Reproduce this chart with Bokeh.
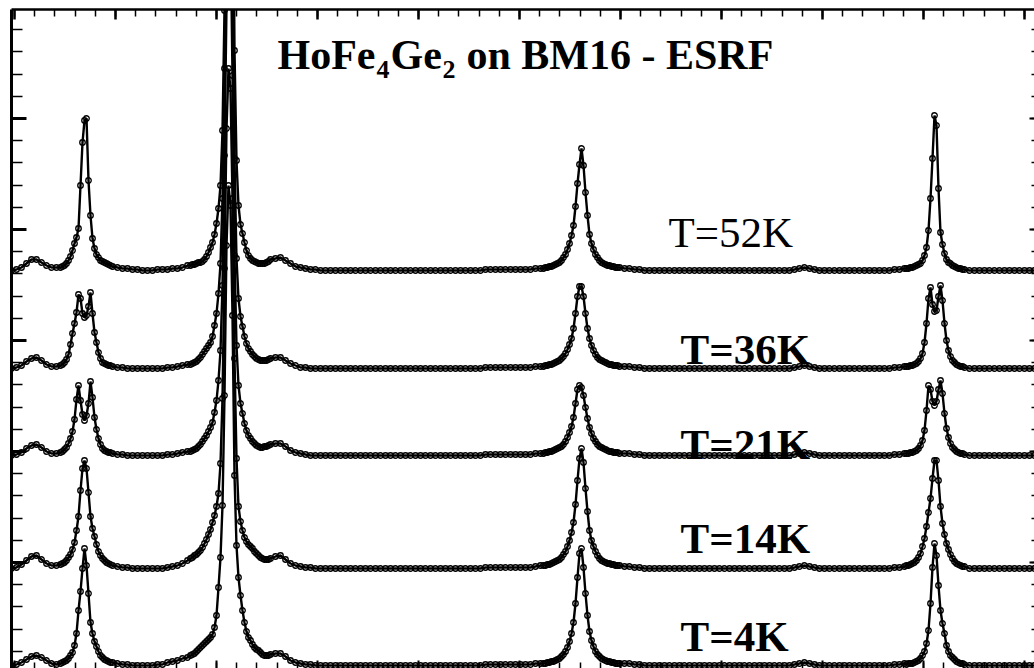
import numpy as np
from bokeh.plotting import figure
from bokeh.models import Range1d, LinearAxis, FixedTicker, Label
from bokeh.embed import file_html
from bokeh.resources import INLINE

# detector channels: coarse steps on the background, finer steps across the Bragg peaks
channel = np.concatenate([
    np.arange(11, 57, 5), np.arange(60, 113, 2), np.arange(117, 188, 5),
    np.arange(190, 271, 2), np.arange(275, 541, 5), np.arange(543, 620, 2),
    np.arange(624, 905, 5), np.arange(906, 965, 2), np.arange(969, 1035, 5),
])

temperatures = ["T=52K", "T=36K", "T=21K", "T=14K", "T=4K"]
offsets = [398, 300, 213, 100, 3]

counts_52K = [
    0, 1, 3, 7, 11, 11, 8, 5, 3, 3,
    3, 4, 5, 7, 10, 14, 20, 27, 33, 42, 85, 128, 150, 152, 90, 55, 32, 22, 16, 13, 10, 9, 8, 7, 6, 5, 4,
    3, 2, 2, 1, 1, 0, 0, 0, 1, 1, 1, 2, 2, 3, 5,
    5, 6, 6, 7, 8, 8, 9, 11, 14, 18, 23, 28, 36, 47, 62, 85, 140, 260, 500, 700,
    680, 480, 220, 110, 65, 46, 37, 28, 20, 15, 12, 10, 9, 8, 7, 7, 7, 7, 8, 9, 11,
    12, 13, 10, 7, 4, 3, 2, 1, 1,
    0, 0, 0, 0, 0, 0, 0, 0, 0, 0, 0, 0, 0, 0, 0, 0, 0, 0, 0, 0, 0, 0, 0, 0, 0, 0, 0, 0, 0, 0, 0, 0, 0,
    1, 1, 1, 1, 1, 1, 1, 1, 1, 1, 2, 2,
    2, 3, 3, 4, 4, 5, 6, 7, 8, 10, 13, 16, 21, 27, 35, 45, 64, 87, 106, 122,
    105, 78, 55, 36, 27, 21, 16, 13, 10, 8, 7, 6, 5, 5, 4, 4, 3, 3, 3,
    2, 2, 1, 1,
    0, 0, 0, 0, 0, 0, 0, 0, 0, 0, 0, 0, 0, 0, 0, 0, 0, 0, 0, 0, 0, 0, 0, 0, 0, 0, 0, 0, 0, 0,
    1, 2, 3, 2, 1,
    0, 0, 0, 0, 0, 0, 0, 0, 0, 0, 0, 0, 0, 0, 0,
    1, 1, 2,
    2, 2, 3, 3, 4, 5, 6, 7, 10, 15, 23, 40, 72, 112, 155, 145, 82, 38, 26, 17, 11, 8, 7, 5, 4, 3, 2, 2, 1, 1,
    0, 0, 0, 0, 0, 0, 0, 0, 0, 0, 0, 0, 0, 0,
]

counts_36K = [
    0, 1, 3, 7, 10, 11, 8, 4, 2, 2,
    3, 4, 6, 9, 14, 24, 35, 45, 56, 74, 70, 55, 51, 53, 62, 76, 55, 36, 26, 16, 10, 6, 5, 4, 3, 3, 2,
    1, 1, 0, 0, 0, 0, 0, 0, 0, 0, 1, 1, 2, 3, 4,
    4, 5, 6, 7, 9, 11, 14, 17, 20, 23, 26, 32, 43, 55, 75, 105, 170, 300, 480, 600,
    580, 400, 210, 110, 70, 52, 42, 32, 25, 20, 17, 14, 12, 10, 9, 8, 8, 8, 8, 9, 10,
    11, 11, 8, 5, 3, 1, 1, 0, 0,
    0, 0, 0, 0, 0, 0, 0, 0, 0, 0, 0, 0, 0, 0, 0, 0, 0, 0, 0, 0, 0, 0, 0, 0, 0, 0, 0, 0, 0, 0, 0, 0, 0,
    1, 1, 1, 1, 1, 1, 1, 1, 1, 1, 2, 2,
    2, 3, 3, 4, 4, 5, 6, 7, 8, 10, 12, 15, 19, 24, 30, 40, 55, 72, 82, 82,
    72, 55, 40, 30, 23, 18, 14, 11, 9, 8, 7, 6, 5, 4, 4, 3, 3, 3, 2,
    2, 2, 1, 1,
    0, 0, 0, 0, 0, 0, 0, 0, 0, 0, 0, 0, 0, 0, 0, 0, 0, 0, 0, 0, 0, 0, 0, 0, 0, 0, 0, 0, 0, 0,
    1, 2, 3, 2, 1,
    0, 0, 0, 0, 0, 0, 0, 0, 0, 0, 0, 0, 0, 0, 0,
    1, 1, 2,
    2, 2, 3, 3, 4, 5, 7, 10, 15, 26, 45, 70, 81, 64, 57, 58, 72, 83, 68, 45, 28, 18, 12, 8, 6, 4, 3, 2, 2, 1,
    0, 0, 0, 0, 0, 0, 0, 0, 0, 0, 0, 0, 0, 0,
]

counts_21K = [
    0, 1, 3, 7, 10, 11, 8, 4, 2, 2,
    3, 4, 6, 8, 12, 17, 24, 36, 56, 70, 55, 41, 35, 40, 52, 74, 58, 38, 26, 17, 11, 7, 5, 4, 3, 3, 2,
    1, 1, 0, 0, 0, 0, 0, 0, 0, 0, 1, 1, 2, 3, 4,
    4, 5, 6, 7, 9, 11, 14, 17, 20, 24, 28, 33, 43, 55, 75, 105, 170, 300, 450, 550,
    530, 380, 200, 110, 70, 52, 42, 32, 25, 20, 17, 14, 12, 10, 9, 8, 8, 9, 9, 10, 11,
    12, 12, 9, 5, 3, 2, 1, 0, 0,
    0, 0, 0, 0, 0, 0, 0, 0, 0, 0, 0, 0, 0, 0, 0, 0, 0, 0, 0, 0, 0, 0, 0, 0, 0, 0, 0, 0, 0, 0, 0, 0, 0,
    1, 1, 1, 1, 1, 1, 1, 1, 1, 1, 2, 2,
    2, 3, 3, 4, 4, 5, 6, 7, 8, 9, 11, 14, 18, 23, 29, 38, 52, 66, 70, 68,
    60, 48, 37, 28, 22, 17, 14, 11, 9, 8, 7, 6, 5, 4, 4, 3, 3, 3, 2,
    2, 2, 1, 1,
    0, 0, 0, 0, 0, 0, 0, 0, 0, 0, 0, 0, 0, 0, 0, 0, 0, 0, 0, 0, 0, 0, 0, 0, 0, 0, 0, 0, 0, 0,
    1, 2, 3, 2, 1,
    0, 0, 0, 0, 0, 0, 0, 0, 0, 0, 0, 0, 0, 0, 0,
    1, 1, 2,
    2, 2, 3, 3, 4, 5, 7, 10, 15, 25, 45, 70, 66, 54, 50, 54, 66, 75, 62, 42, 27, 18, 12, 8, 6, 4, 3, 2, 2, 1,
    0, 0, 0, 0, 0, 0, 0, 0, 0, 0, 0, 0, 0, 0,
]

counts_14K = [
    0, 1, 4, 8, 12, 13, 9, 5, 3, 3,
    4, 5, 6, 8, 11, 14, 19, 26, 38, 52, 78, 100, 108, 100, 76, 52, 40, 32, 24, 17, 13, 10, 8, 6, 5, 4, 3,
    2, 1, 1, 0, 0, 0, 0, 0, 0, 0, 1, 2, 3, 5, 8,
    10, 11, 13, 14, 16, 18, 21, 25, 29, 34, 39, 46, 53, 62, 75, 105, 170, 300, 440, 500,
    480, 370, 210, 110, 62, 47, 38, 31, 27, 24, 22, 20, 17, 15, 13, 11, 10, 9, 9, 9, 10,
    12, 13, 9, 5, 3, 2, 1, 1, 0,
    0, 0, 0, 0, 0, 0, 0, 0, 0, 0, 0, 0, 0, 0, 0, 0, 0, 0, 0, 0, 0, 0, 0, 0, 0, 0, 0, 0, 0, 0, 0, 0, 0,
    1, 1, 1, 1, 1, 1, 1, 1, 1, 1, 2, 3,
    3, 3, 4, 4, 5, 6, 7, 8, 9, 11, 14, 17, 22, 28, 36, 46, 64, 88, 110, 120,
    106, 80, 57, 38, 28, 22, 17, 13, 10, 8, 7, 6, 5, 5, 4, 4, 3, 3, 3,
    2, 2, 1, 1,
    0, 0, 0, 0, 0, 0, 0, 0, 0, 0, 0, 0, 0, 0, 0, 0, 0, 0, 0, 0, 0, 0, 0, 0, 0, 0, 0, 0, 0, 0,
    1, 2, 3, 2, 1,
    0, 0, 0, 0, 0, 0, 0, 0, 0, 0, 0, 0, 0, 0, 0,
    1, 1, 2,
    3, 3, 4, 5, 6, 8, 11, 15, 22, 30, 42, 56, 70, 90, 108, 108, 88, 62, 45, 34, 25, 19, 14, 10, 7, 5, 4, 3, 2, 2,
    0, 0, 0, 0, 0, 0, 0, 0, 0, 0, 0, 0, 0, 0,
]

counts_4K = [
    0, 1, 3, 6, 9, 10, 8, 5, 2, 1,
    2, 3, 4, 5, 7, 10, 13, 20, 32, 55, 74, 97, 117, 100, 72, 43, 32, 24, 19, 14, 10, 8, 6, 5, 4, 3, 3,
    2, 1, 1, 0, 0, 0, 0, 0, 1, 1, 3, 4, 5, 7, 8,
    10, 11, 12, 14, 16, 18, 20, 22, 24, 26, 28, 31, 38, 50, 78, 108, 160, 270, 420, 480,
    460, 350, 190, 120, 88, 70, 55, 43, 34, 28, 25, 21, 18, 16, 15, 13, 11, 10, 10, 10, 11,
    12, 12, 9, 5, 3, 2, 1, 1, 0,
    0, 0, 0, 0, 0, 0, 0, 0, 0, 0, 0, 0, 0, 0, 0, 0, 0, 0, 0, 0, 0, 0, 0, 0, 0, 0, 0, 0, 0, 0, 0, 0, 0,
    1, 1, 1, 1, 1, 1, 1, 1, 1, 1, 2, 2,
    2, 2, 3, 3, 4, 4, 5, 6, 7, 9, 11, 14, 18, 24, 32, 43, 62, 88, 112, 117,
    98, 72, 50, 34, 25, 19, 14, 11, 9, 7, 6, 5, 4, 4, 3, 3, 2, 2, 2,
    2, 2, 1, 1,
    0, 0, 0, 0, 0, 0, 0, 0, 0, 0, 0, 0, 0, 0, 0, 0, 0, 0, 0, 0, 0, 0, 0, 0, 0, 0, 0, 0, 0, 0,
    1, 2, 3, 2, 1,
    0, 0, 0, 0, 0, 0, 0, 0, 0, 0, 0, 0, 0, 0, 0,
    1, 1, 2,
    1, 2, 2, 2, 3, 4, 5, 7, 10, 14, 22, 35, 62, 98, 122, 110, 80, 55, 42, 32, 20, 14, 10, 8, 6, 4, 3, 2, 2, 1,
    0, 0, 0, 0, 0, 0, 0, 0, 0, 0, 0, 0, 0, 0,
]

patterns = [counts_52K, counts_36K, counts_21K, counts_14K, counts_4K]
for pat in patterns:
    assert len(pat) == len(channel), (len(pat), len(channel))

# tick positions of the frame (channel / stacked-count units)
x_major = [14 + 101 * k for k in range(11)]
x_minor = [14 + 20.2 * k for k in range(51)]
y_major = [661 - 111 * k for k in range(7)]
y_minor = [661 - 22.2 * k for k in range(31)]

p = figure(width=1034, height=668, output_backend="svg", toolbar_location=None,
           x_range=Range1d(11, 1034), y_range=Range1d(0, 659),
           min_border_left=11, min_border_top=9, min_border_right=0, min_border_bottom=0,
           title=None, background_fill_color="white", border_fill_color="white")
p.outline_line_color = None
p.xgrid.visible = False
p.ygrid.visible = False

p.add_layout(LinearAxis(), "above")
p.add_layout(LinearAxis(), "right")


def frame_axis(ax, ticker, major_in, minor_in, major_w, minor_w, line_w):
    ax.ticker = ticker
    ax.major_label_text_font_size = "0px"
    ax.major_label_text_color = None
    ax.major_label_standoff = 0
    ax.major_tick_out = 0
    ax.minor_tick_out = 0
    ax.major_tick_in = major_in
    ax.minor_tick_in = minor_in
    ax.major_tick_line_width = major_w
    ax.minor_tick_line_width = minor_w
    ax.major_tick_line_color = "black"
    ax.minor_tick_line_color = "black"
    if line_w:
        ax.axis_line_width = line_w
        ax.axis_line_color = "black"
    else:
        ax.axis_line_color = None


x_ticker = FixedTicker(ticks=x_major, minor_ticks=x_minor)
y_ticker = FixedTicker(ticks=y_major, minor_ticks=y_minor)
frame_axis(p.left[0], y_ticker, 15, 11, 3, 1.5, 3)
frame_axis(p.above[0], x_ticker, 10, 7, 2.5, 1.5, 2.5)
frame_axis(p.right[0], y_ticker, 5, 3, 2, 1.5, None)
frame_axis(p.below[0], x_ticker, 8, 6, 2, 1.5, None)

for pat, off in zip(patterns[::-1], offsets[::-1]):
    y = off + np.asarray(pat, dtype=float)
    p.line(channel, y, line_color="black", line_width=2.4)
    p.scatter(channel, y, size=5.5, marker="circle", fill_color="white", fill_alpha=0.0,
              line_color="black", line_width=1.3)

# the SVG text baseline sits ~0.36 em below the anchor, so anchors are raised by that much
def text_label(txt, x, y_base, size_px, weight):
    p.add_layout(Label(x=x, y=y_base + 0.36 * size_px, text=txt, text_font="Liberation Serif",
                       text_font_size=f"{size_px}px", text_font_style=weight,
                       text_color="black", text_baseline="alphabetic"))


label_pos = [(668, 421, "normal"), (680, 304, "bold"), (680, 209, "bold"),
             (680, 115, "bold"), (680, 17, "bold")]
for name, (lx, ly, weight) in zip(temperatures, label_pos):
    text_label(name, lx, ly, 43, weight)

# sample / instrument heading with subscripted formula indices
heading = [("HoFe", 277, 598, 42), ("4", 376, 590, 26), ("Ge", 390, 598, 42),
           ("2", 442, 590, 26), ("on BM16 - ESRF", 466, 598, 42)]
for txt, hx, hy, size in heading:
    text_label(txt, hx, hy, size, "bold")

open("out.html", "w").write(file_html(p, INLINE))
